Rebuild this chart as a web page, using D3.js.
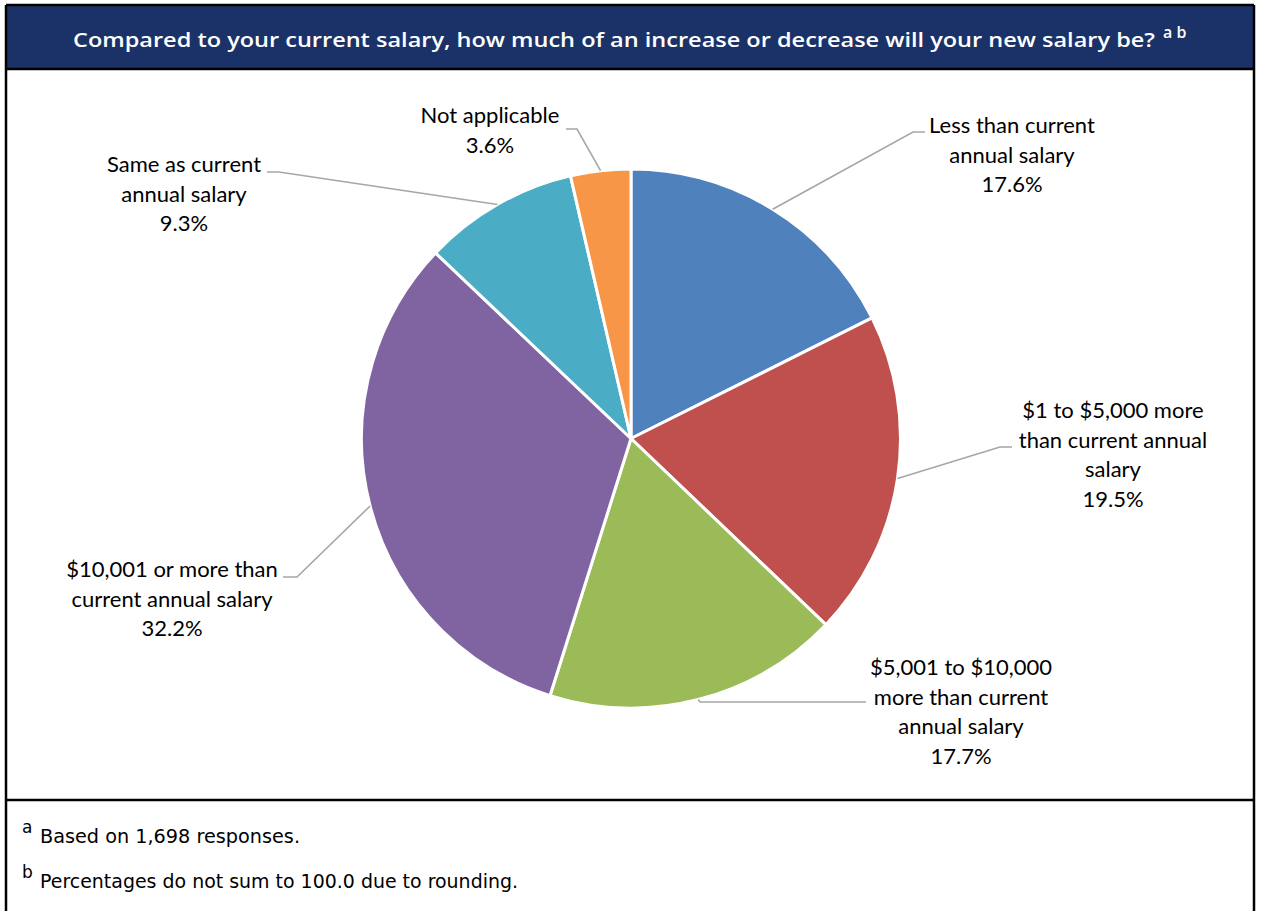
<!DOCTYPE html>
<html>
<head>
<meta charset="utf-8">
<script src="https://cdn.jsdelivr.net/npm/d3@7"></script>
<style>
  body { margin: 0; background: #ffffff; }
  svg { display: block; }
</style>
</head>
<body>
<svg id="chart" width="1261" height="911"></svg>
<script>
// ---- Data ----
const categories = [
  "Less than current annual salary",
  "$1 to $5,000 more than current annual salary",
  "$5,001 to $10,000 more than current annual salary",
  "$10,001 or more than current annual salary",
  "Same as current annual salary",
  "Not applicable"
];
const labelLines = [
  ["Less than current", "annual salary"],
  ["$1 to $5,000 more", "than current annual", "salary"],
  ["$5,001 to $10,000", "more than current", "annual salary"],
  ["$10,001 or more than", "current annual salary"],
  ["Same as current", "annual salary"],
  ["Not applicable"]
];
const percentages = [17.6, 19.5, 17.7, 32.2, 9.3, 3.6];
const sliceColors = ["#4F81BD", "#C0504D", "#9BBB59", "#8064A2", "#4BACC6", "#F79646"];

const titleText = "Compared to your current salary, how much of an increase or decrease will your new salary be?";
const titleNotes = "a b";
const footnoteMarks = ["a", "b"];
const footnotes = ["Based on 1,698 responses.", "Percentages do not sum to 100.0 due to rounding."];

// ---- Layout ----
const W = 1261, H = 911;
const frame = { left: 6, right: 1254, top: 5, titleBottom: 69, footerTop: 800 };
const pieCenter = { x: 631, y: 438.5 };
const radius = 269.5;
const labelFont = "Lato, 'Open Sans', sans-serif";
const labelSize = 22;
const lineGap = 29.5;

// Label block centre x, first baseline y, and leader-line elbow / end points
const labelLayout = [
  { cx: 1012, y: 133, elbow: [913, 132], end: [925, 132] },
  { cx: 1113, y: 418, elbow: [1000, 447], end: [1012, 447] },
  { cx: 961, y: 675, elbow: [700, 702], end: [866, 702] },
  { cx: 172, y: 577, elbow: [297, 577], end: [283, 577] },
  { cx: 184, y: 172, elbow: [279, 172], end: [267, 172] },
  { cx: 490, y: 123, elbow: [577, 129], end: [566, 129] }
];

const svg = d3.select("#chart");

// Title bar
svg.append("rect")
  .attr("x", frame.left).attr("y", frame.top)
  .attr("width", frame.right - frame.left).attr("height", frame.titleBottom - frame.top)
  .attr("fill", "#1B3268");

svg.append("text")
  .attr("x", 73).attr("y", 47)
  .attr("fill", "#ffffff")
  .attr("font-family", "'Open Sans', 'DejaVu Sans', sans-serif")
  .attr("font-weight", 600)
  .attr("font-size", 19.5)
  .attr("textLength", 1082)
  .attr("lengthAdjust", "spacingAndGlyphs")
  .text(titleText);

svg.append("text")
  .attr("x", 1163).attr("y", 38)
  .attr("fill", "#ffffff")
  .attr("font-family", "'Open Sans', 'DejaVu Sans', sans-serif")
  .attr("font-weight", 600)
  .attr("font-size", 16)
  .text(titleNotes);

// Pie
const pie = d3.pie().value(d => d).sort(null);
const arcs = pie(percentages);
const arc = d3.arc().innerRadius(0).outerRadius(radius);

const g = svg.append("g").attr("transform", `translate(${pieCenter.x},${pieCenter.y})`);
g.selectAll("path.slice")
  .data(arcs)
  .join("path")
  .attr("class", "slice")
  .attr("d", arc)
  .attr("fill", (d, i) => sliceColors[i])
  .attr("stroke", "#ffffff")
  .attr("stroke-width", 3)
  .attr("stroke-linejoin", "round");

// Leader lines from each slice's outer mid-point
const edgeArc = d3.arc().innerRadius(radius).outerRadius(radius);
svg.append("g").selectAll("polyline")
  .data(arcs)
  .join("polyline")
  .attr("points", (d, i) => {
    const c = edgeArc.centroid(d);
    const p0 = [c[0] + pieCenter.x, c[1] + pieCenter.y];
    const L = labelLayout[i];
    return [p0, L.elbow, L.end].map(p => p.join(",")).join(" ");
  })
  .attr("fill", "none")
  .attr("stroke", "#A6A6A6")
  .attr("stroke-width", 1.6);

// Data labels
const labels = svg.append("g")
  .attr("font-family", labelFont)
  .attr("font-size", labelSize)
  .attr("fill", "#000000")
  .attr("text-anchor", "middle");
arcs.forEach((d, i) => {
  const L = labelLayout[i];
  const lines = labelLines[i].concat([percentages[i].toFixed(1) + "%"]);
  const t = labels.append("text").attr("x", L.cx).attr("y", L.y);
  lines.forEach((s, j) => {
    t.append("tspan").attr("x", L.cx).attr("dy", j === 0 ? 0 : lineGap).text(s);
  });
});

// Footnotes
const fnFont = "'DejaVu Sans', Verdana, sans-serif";
footnotes.forEach((s, i) => {
  const base = 843 + i * 45;
  svg.append("text")
    .attr("x", 22).attr("y", base - 10)
    .attr("font-family", fnFont).attr("font-size", 17)
    .text(footnoteMarks[i]);
  svg.append("text")
    .attr("x", 40).attr("y", base)
    .attr("font-family", fnFont).attr("font-size", 19)
    .attr("textLength", i === 0 ? 260 : 478)
    .attr("lengthAdjust", "spacingAndGlyphs")
    .text(s);
});

// Frame lines
const frameG = svg.append("g").attr("stroke", "#000000").attr("stroke-width", 2.5).attr("fill", "none");
frameG.append("line").attr("x1", frame.left).attr("x2", frame.left).attr("y1", frame.top).attr("y2", H);
frameG.append("line").attr("x1", frame.right).attr("x2", frame.right).attr("y1", frame.top).attr("y2", H);
frameG.append("line").attr("x1", frame.left).attr("x2", frame.right).attr("y1", frame.top).attr("y2", frame.top);
frameG.append("line").attr("x1", frame.left).attr("x2", frame.right).attr("y1", frame.titleBottom).attr("y2", frame.titleBottom);
frameG.append("line").attr("x1", frame.left).attr("x2", frame.right).attr("y1", frame.footerTop).attr("y2", frame.footerTop);
</script>
</body>
</html>
